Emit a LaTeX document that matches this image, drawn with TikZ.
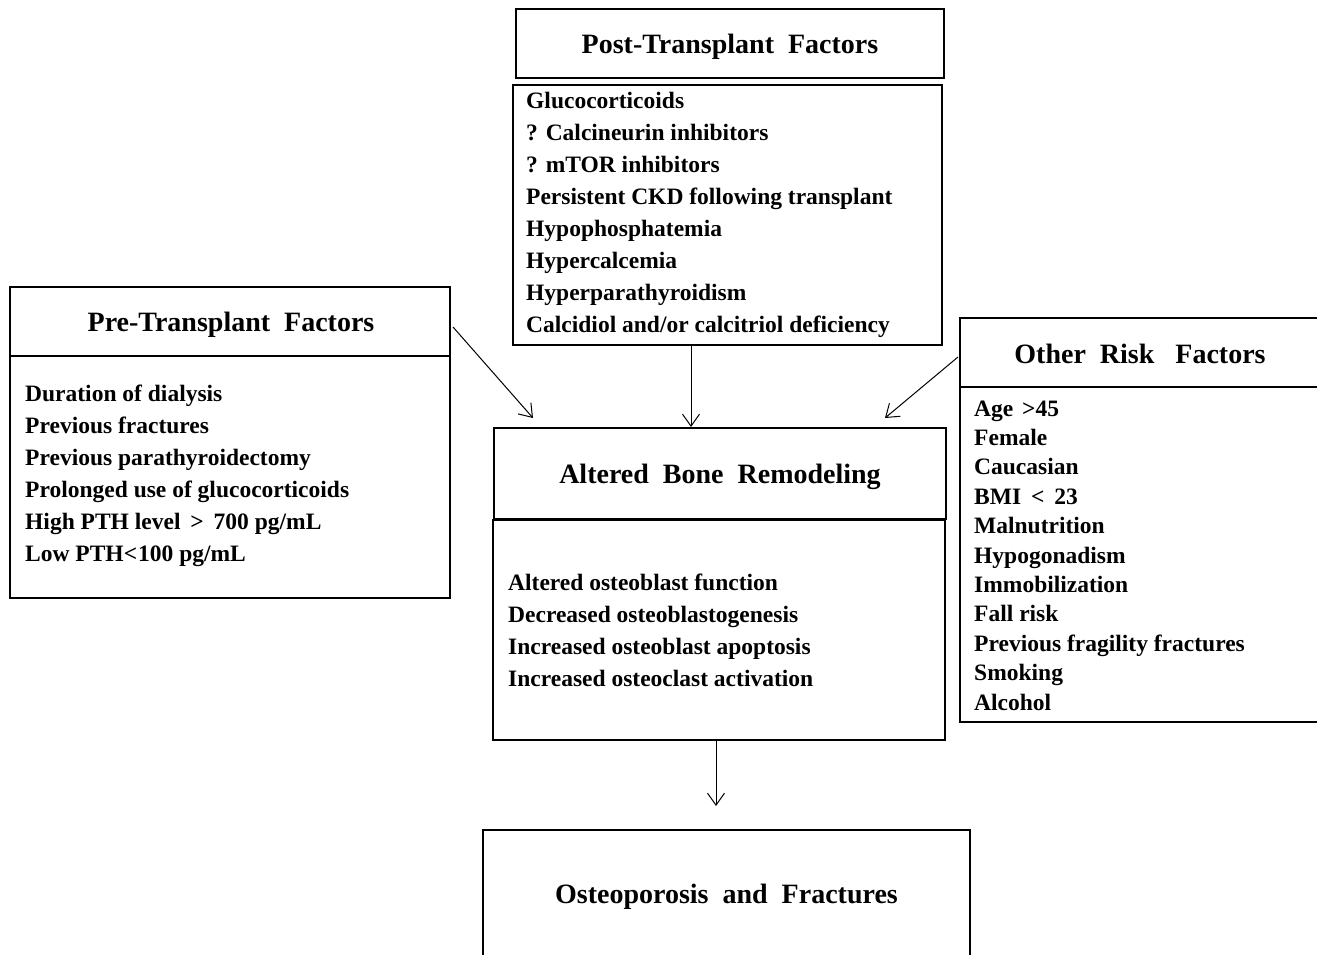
\documentclass[tikz,border=0pt]{standalone}
\usepackage{fontspec}
\setmainfont{Liberation Serif}
\usetikzlibrary{arrows.meta}
\begin{document}
\begin{tikzpicture}[x=1pt,y=-1pt,
  box/.style={draw, line width=1.1pt, inner sep=0pt, rectangle},
  ttl/.style={font=\fontsize{28}{32}\selectfont\bfseries, inner sep=0pt, anchor=base},
  lst/.style={font=\fontsize{23.5}{32}\selectfont\bfseries, anchor=base west, inner sep=0pt},
  arr/.style={-{Straight Barb[length=12pt,width=17pt]}, line width=1pt}]
\useasboundingbox (0,0) rectangle (1317,954);
% boxes
\node[box, minimum width=440pt, minimum height=69pt] (pretitle) at (230,321.5) {};
\node[box, minimum width=440pt, minimum height=242pt] (prelist) at (230,477) {};
\node[box, minimum width=428pt, minimum height=69pt] (posttitle) at (730,43.5) {};
\node[box, minimum width=429pt, minimum height=260pt] (postlist) at (727.5,215) {};
\node[box, minimum width=360pt, minimum height=69pt] (othtitle) at (1140,352.5) {};
\node[box, minimum width=360pt, minimum height=335pt] (othlist) at (1140,554.5) {};
\node[box, minimum width=452pt, minimum height=91pt] (alttitle) at (720,473.5) {};
\node[box, minimum width=452pt, minimum height=220pt] (altlist) at (719,630) {};
\node[box, minimum width=487pt, minimum height=130pt] (osteo) at (726.5,895) {};
% titles
\node[ttl] (pret) at (231,331) {Pre-Transplant\ \ Factors};
\node[ttl] (postt) at (730,53.5) {Post-Transplant\ \ Factors};
\node[ttl] (otht) at (1140,363) {Other\ \ Risk\ \ \ Factors};
\node[ttl] (altt) at (720,483.5) {Altered\ \ Bone\ \ Remodeling};
\node[ttl] (ostt) at (726.5,903) {Osteoporosis\ \ and\ \ Fractures};
% lists
\foreach \t [count=\i from 0] in {Duration of dialysis,Previous fractures,Previous parathyroidectomy,Prolonged use of glucocorticoids,High PTH level\hspace{4pt} >\hspace{4pt} 700 pg/mL,Low PTH<\hspace{1pt}100 pg/mL}
  \node[lst] (pre\i) at (25,401+32*\i) {\t};
\foreach \t [count=\i from 0] in {Glucocorticoids,? Calcineurin inhibitors,? mTOR inhibitors,Persistent CKD following transplant,Hypophosphatemia,Hypercalcemia,Hyperparathyroidism,Calcidiol and/or calcitriol deficiency}
  \node[lst] (post\i) at (526,108+32.1*\i) {\t};
\foreach \t [count=\i from 0] in {Age\hspace{3pt} >45,Female,Caucasian,BMI\hspace{4pt} <\hspace{4pt} 23,Malnutrition,Hypogonadism,Immobilization,Fall risk,Previous fragility fractures,Smoking,Alcohol}
  \node[lst] (oth\i) at (974,416+29.4*\i) {\t};
\foreach \t [count=\i from 0] in {Altered osteoblast function,Decreased osteoblastogenesis,Increased osteoblast apoptosis,Increased osteoclast activation}
  \node[lst] (alt\i) at (508,590+32.3*\i) {\t};
% arrows
\coordinate (a1s) at (453,327);
\coordinate (a1e) at (533,418);
\coordinate (a2e) at (691,427);
\coordinate (a3s) at (958,357);
\coordinate (a3e) at (885,418);
\coordinate (a4e) at (716,806);
\draw[arr] (a1s) -- (a1e);
\draw[arr] (postlist.south -| a2e) -- (a2e);
\draw[arr] (a3s) -- (a3e);
\draw[arr] (altlist.south -| a4e) -- (a4e);
\end{tikzpicture}
\end{document}
